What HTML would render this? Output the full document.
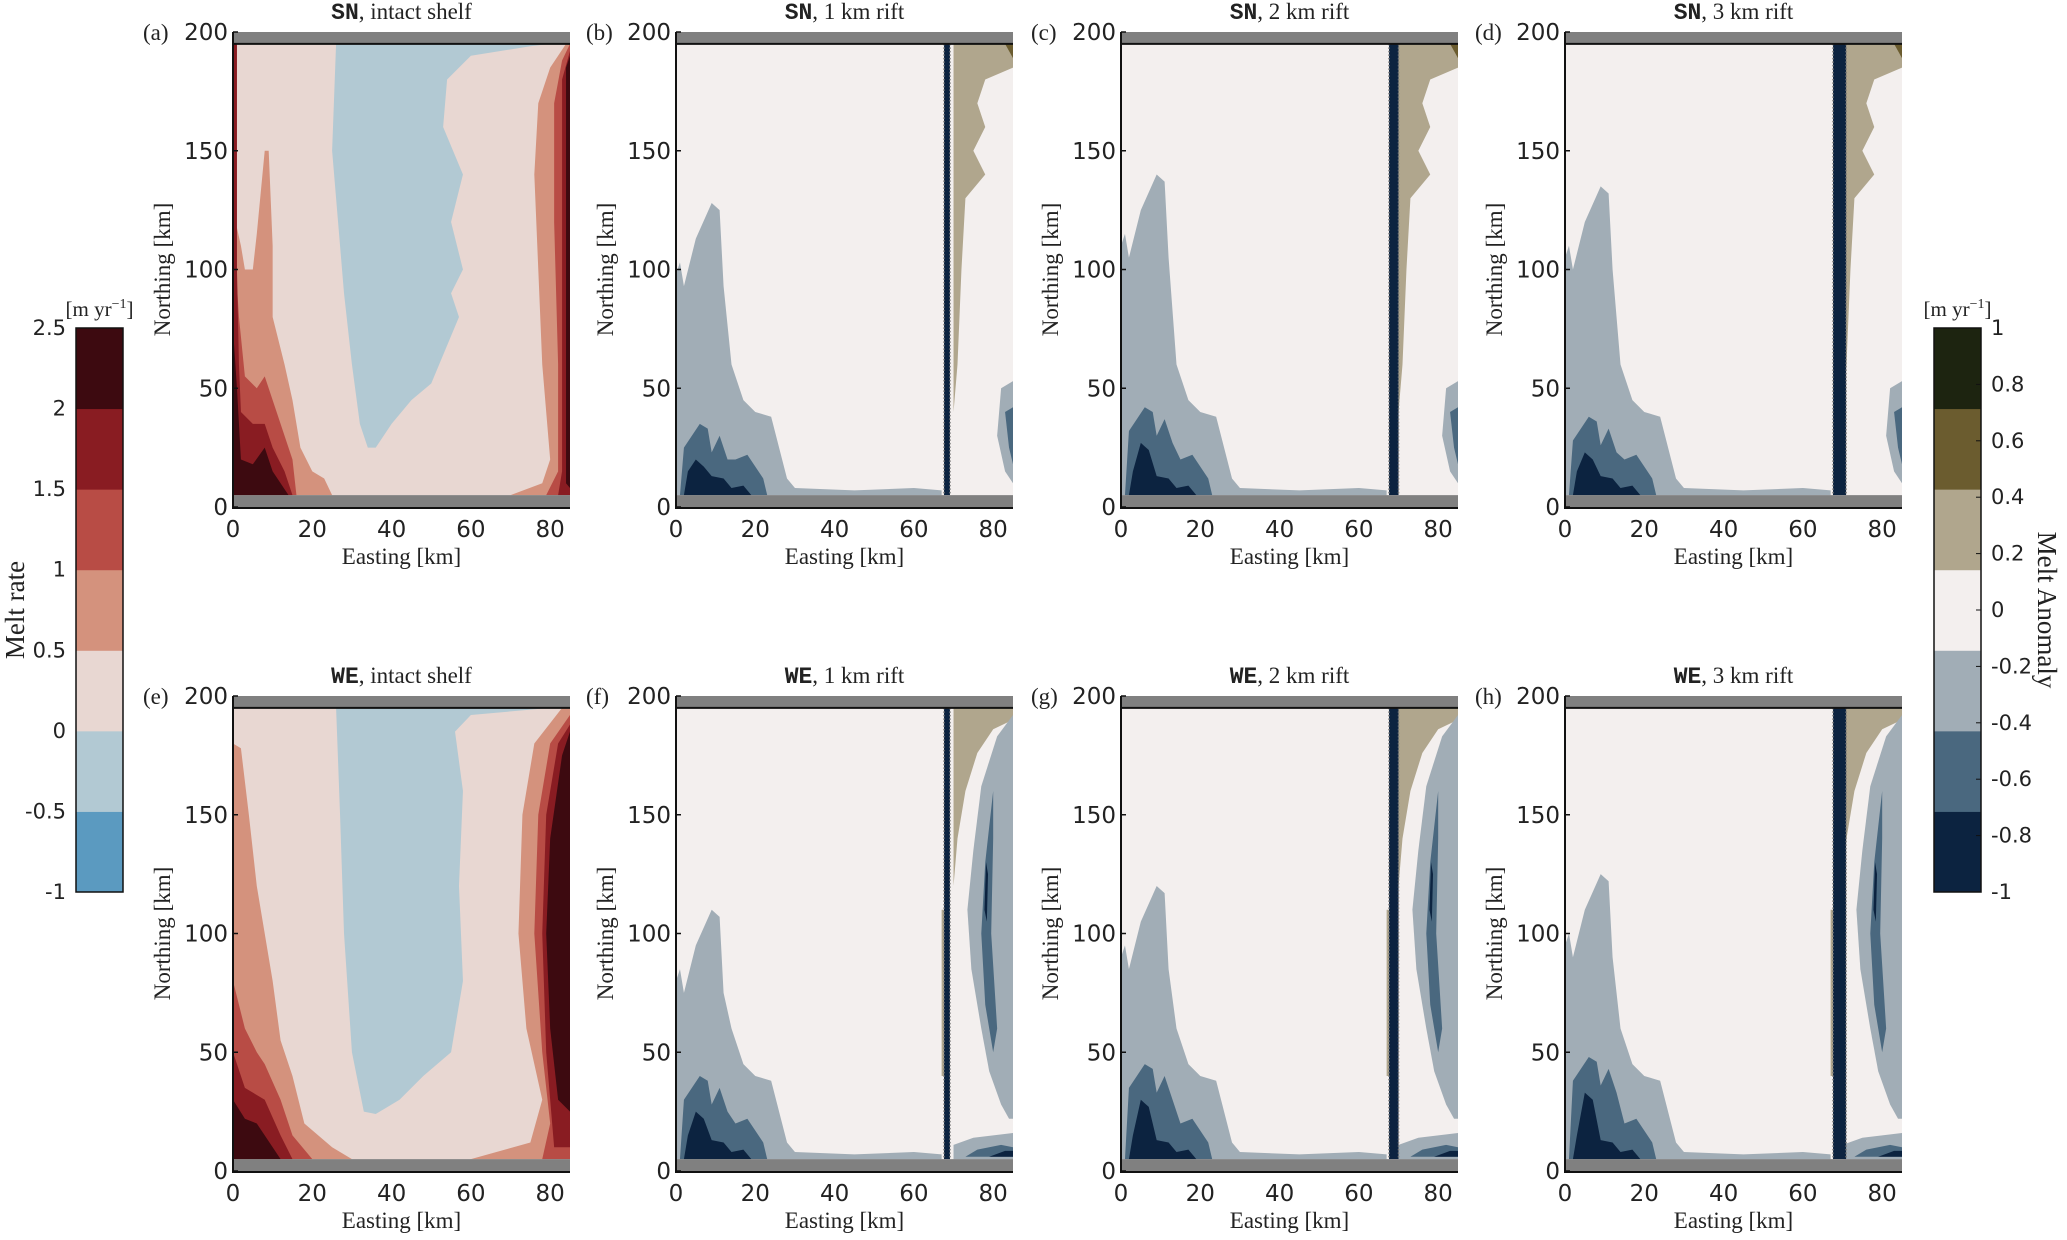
<!DOCTYPE html>
<html><head><meta charset="utf-8"><style>
body{margin:0;background:#fff;}
svg text{font-family:"DejaVu Sans","Liberation Sans",sans-serif;}
.serif{font-family:"Liberation Serif",serif !important;}
.mono{font-family:"Liberation Mono",monospace !important;font-weight:bold;}
</style></head><body>
<svg id="fig" width="2067" height="1235" viewBox="0 0 2067 1235" xmlns="http://www.w3.org/2000/svg"></svg>
<script>
// ---- data (easting km, northing km) ----
const meltColors = ["#5b9ac0","#b2c9d3","#e8d7d2","#d4927d","#b84c45","#891c22","#3d0a10"];
const meltTicks = ["-1","-0.5","0","0.5","1","1.5","2","2.5"];
const anomColors = ["#0c2340","#4a687f","#a1adb6","#f3efee","#b0a68d","#6b5c2f","#1d2410"];
const anomTicks = ["-1","-0.8","-0.6","-0.4","-0.2","0","0.2","0.4","0.6","0.8","1"];
const xTicks = [0,20,40,60,80];
const yTicks = [0,50,100,150,200];
const panelLetters = ["a","b","c","d","e","f","g","h"];
const panelTitles = [["SN",", intact shelf"],["SN",", 1 km rift"],["SN",", 2 km rift"],["SN",", 3 km rift"],["WE",", intact shelf"],["WE",", 1 km rift"],["WE",", 2 km rift"],["WE",", 3 km rift"]];
const riftWidths = [0,1,2,3,0,1,2,3];

// panel a (SN intact)
const aBlue = [[26,195],[25,150],[27,110],[28,90],[30,60],[32,35],[34,25],[36,25],[40,35],[45,45],[50,52],[52,60],[57,80],[55,90],[58,100],[55,120],[58,140],[53,160],[54,180],[60,190],[75,194],[80,195]];
const aL1 = [[0,5],[0,125],[2,110],[3,100],[5,100],[6,115],[8,150],[9,150],[10,110],[10,80],[13,60],[15,45],[17,25],[20,15],[23,12],[25,5]];
const aL2 = [[0,5],[0,120],[1.5,80],[3,55],[6,50],[8,55],[10,45],[12,35],[15,20],[16,5]];
const aL3 = [[0,5],[0,195],[1,195],[1,100],[1.5,60],[2,40],[5,35],[8,35],[10,25],[13,15],[15,5]];
const aL4 = [[0,5],[0,75],[1,50],[2,20],[5,18],[8,25],[10,15],[12,10],[14,5]];
const aR1 = [[70,5],[78,10],[80,20],[78,60],[77,100],[76,140],[77,170],[80,185],[84,195],[85,195],[85,5]];
const aR2 = [[79,5],[82,15],[82,60],[81,120],[81,170],[83,188],[85,195],[85,5]];
const aR3 = [[82,5],[83,15],[83,120],[83,180],[85,192],[85,5]];
const aR4 = [[84,10],[84,100],[84,185],[85,190],[85,8]];
// panel e (WE intact)
const eBlue = [[26,195],[27,150],[28,100],[30,50],[33,25],[36,24],[42,30],[48,40],[55,50],[58,80],[57,120],[58,160],[56,185],[60,192],[80,195]];
const eL1 = [[0,5],[0,180],[2,178],[4,150],[6,120],[8,100],[10,80],[12,55],[15,40],[18,20],[25,10],[30,5]];
const eL2 = [[0,5],[0,80],[3,60],[6,50],[8,45],[12,30],[15,15],[20,5]];
const eL3 = [[0,5],[0,50],[3,35],[8,30],[12,15],[15,5]];
const eL4 = [[0,5],[0,30],[3,22],[6,20],[10,10],[12,5]];
const eR1 = [[60,5],[75,12],[78,30],[74,60],[72,100],[73,150],[76,180],[83,195],[85,195],[85,5]];
const eR2 = [[78,5],[80,20],[78,50],[76,100],[77,150],[80,180],[85,192],[85,5]];
const eR3 = [[81,10],[79,50],[78,100],[79,150],[82,180],[85,188],[85,10]];
const eR4 = [[82,30],[80,60],[79,100],[80,140],[83,175],[85,185],[85,25]];
// anomaly tongue peaks per rift panel b,c,d,f,g,h
const tonguePeakN = [128,140,135,110,120,125];
const tongueMidN = [35,42,38,40,45,48];
// SN rift-side features
const snTan = [[70,195],[85,195],[85,185],[78,180],[76,170],[78,160],[75,150],[78,140],[73,130],[72,100],[71,60],[70,40]];
const snTanDark = [[83,195],[85,195],[85,189]];
const snGrey = [[82,50],[85,53],[85,10],[83,15],[81,30]];
const snMid = [[83,40],[85,42],[85,18],[84,25]];
// WE rift-side features
const weTan = [[70,195],[85,195],[85,190],[80,186],[76,176],[73,160],[71,140],[70,120]];
const weRiftTan = [[67,40],[67,110],[67.6,110],[67.6,40]];
const weGrey = [[85,192],[81,183],[77,162],[75,135],[73.5,110],[74.5,85],[77,60],[79,42],[82,28],[84,22],[85,22]];
const weMid = [[80,160],[78,130],[77,100],[78,70],[80,50],[81,60],[79.5,100],[80,140]];
const weDark = [[78.2,130],[77.8,110],[78.4,105],[78.7,125]];
const weBotGrey = [[70,5],[70,11],[75,14],[80,15],[85,16],[85,5]];
const weBotMid = [[73,6],[76,9],[82,11],[85,10],[85,6]];
const weBotDark = [[79,6],[83,8.5],[85,8.5],[85,6]];

// ---- layout ----
const colL = [233,676,1121,1565], PW = 337;
const rowTop = [32,696], PH = 475;
const NS = "http://www.w3.org/2000/svg";
const svg = document.getElementById('fig');
function mk(tag, attrs, parent){const e=document.createElementNS(NS,tag);for(const k in attrs)e.setAttribute(k,attrs[k]);(parent||svg).appendChild(e);return e;}
function txt(s, attrs, parent){const e=mk('text',attrs,parent);e.textContent=s;return e;}

function drawPanel(i){
  const L=colL[i%4], T=rowTop[Math.floor(i/4)];
  const xs=e=>L+e/85*PW, ys=n=>T+(200-n)/200*PH;
  const g=mk('g',{});
  
  
  const poly=(pts,col,name)=>{const p=mk('polygon',{points:pts.map(q=>xs(q[0])+','+ys(q[1])).join(' '),fill:col},g);return p;};
  const rect=(e0,n0,e1,n1,col,name)=>{const r=mk('rect',{x:xs(e0),y:ys(n1),width:xs(e1)-xs(e0),height:ys(n0)-ys(n1),fill:col},g);return r;};
  const intact = riftWidths[i]===0;
  if(intact){
    const top=i<4;
    rect(0,5,85,195,meltColors[2],'melt-background');
    poly(top?aBlue:eBlue,meltColors[1],'melt-negative-region');
    const Ls=top?[aL1,aL2,aL3,aL4]:[eL1,eL2,eL3,eL4], Rs=top?[aR1,aR2,aR3,aR4]:[eR1,eR2,eR3,eR4];
    for(let k=0;k<4;k++){poly(Ls[k],meltColors[3+k],'melt-west-band-'+k);poly(Rs[k],meltColors[3+k],'melt-east-band-'+k);}
  } else {
    const idx=(i<4)?i-1:i-2;
    const pk=tonguePeakN[idx], md=tongueMidN[idx];
    rect(0,5,85,195,anomColors[3],'anomaly-background');
    poly([[0,5],[0,pk-30],[1,pk-25],[2,pk-35],[5,pk-15],[9,pk],[11,pk-3],[12,pk-35],[14,60],[17,45],[20,40],[24,38],[26,25],[28,12],[30,8],[45,7],[60,8],[67,7],[67,5]],anomColors[2],'anomaly-tongue-light');
    poly([[1,5],[2,md-10],[4,md-5],[6,md],[8,md-2],[9,md-12],[11,md-5],[13,md-15],[15,20],[18,22],[22,12],[23,5]],anomColors[1],'anomaly-tongue-mid');
    poly([[2,5],[3,15],[5,md-15],[7,md-18],[9,13],[12,12],[14,8],[17,9],[19,5]],anomColors[0],'anomaly-tongue-dark');
    if(i<4){poly(snTan,anomColors[4],'anomaly-tan-region');poly(snTanDark,anomColors[5],'anomaly-tan-dark');poly(snGrey,anomColors[2],'anomaly-se-grey');poly(snMid,anomColors[1],'anomaly-se-mid');}
    else{poly(weTan,anomColors[4],'anomaly-tan-region');poly(weRiftTan,anomColors[4],'anomaly-rift-tan');poly(weGrey,anomColors[2],'anomaly-crescent-light');poly(weMid,anomColors[1],'anomaly-crescent-mid');poly(weDark,anomColors[0],'anomaly-crescent-dark');poly(weBotGrey,anomColors[2],'anomaly-se-grey');poly(weBotMid,anomColors[1],'anomaly-se-mid');poly(weBotDark,anomColors[0],'anomaly-se-dark');}
    const rw=riftWidths[i]*0.9+0.6;
    rect(67.6,5,67.6+rw,195,anomColors[0],'rift');
    mk('line',{x1:xs(67.6),y1:ys(195),x2:xs(67.6),y2:ys(5),stroke:'#777','stroke-dasharray':'1.5 2','stroke-width':1.5},g);
    mk('line',{x1:xs(67.6+rw),y1:ys(195),x2:xs(67.6+rw),y2:ys(5),stroke:'#777','stroke-dasharray':'1.5 2','stroke-width':1.5},g);
  }
  rect(0,195,85,200,'#808080','top-boundary-bar');
  rect(0,0,85,5,'#808080','bottom-boundary-bar');
  mk('line',{x1:L,y1:ys(195),x2:L+PW,y2:ys(195),stroke:'#111','stroke-width':2},g);
  mk('line',{x1:L,y1:ys(0)+1,x2:L+PW,y2:ys(0)+1,stroke:'#111','stroke-width':2},g);
  mk('line',{x1:L,y1:T,x2:L,y2:T+PH+2,stroke:'#111','stroke-width':2},g);
  yTicks.forEach(v=>{mk('line',{x1:L,y1:ys(v),x2:L+5,y2:ys(v),stroke:'#111','stroke-width':1.5},g);const t=txt(String(v),{x:L-5,y:ys(v)+8,'font-size':23,'text-anchor':'end',fill:'#222'},g);});
  xTicks.forEach(v=>{const t=txt(String(v),{x:xs(v),y:T+PH+30,'font-size':23,'text-anchor':'middle',fill:'#222'},g);});
  const xl=txt('Easting [km]',{x:L+PW/2,y:T+PH+57,'font-size':23,'text-anchor':'middle',class:'serif',fill:'#222'},g);
  
  const yl=txt('Northing [km]',{x:0,y:0,'font-size':23,'text-anchor':'middle',class:'serif',fill:'#222',transform:`translate(${L-63},${T+PH/2}) rotate(-90)`},g);
  
  const pl=txt('('+panelLetters[i]+')',{x:L-90,y:T+8,'font-size':23,class:'serif',fill:'#222'},g);
  
  const ti=mk('text',{x:L+PW/2,y:T-13,'font-size':23,'text-anchor':'middle',class:'serif',fill:'#222'},g);
  
  const s1=mk('tspan',{class:'mono'},ti);s1.textContent=panelTitles[i][0];
  const s2=mk('tspan',{},ti);s2.textContent=panelTitles[i][1];
}
for(let i=0;i<8;i++)drawPanel(i);

function colorbar(x,colors,ticks,right,title,name){
  const T=328,H=564,W=47;
  const g=mk('g',{});
  
  
  const n=colors.length;
  colors.forEach((c,k)=>{const r=mk('rect',{x:x,y:T+H-(k+1)*H/n,width:W,height:H/n+0.5,fill:c},g);});
  mk('rect',{x:x,y:T,width:W,height:H,fill:'none',stroke:'#111','stroke-width':1.5},g);
  ticks.forEach((t,k)=>{const y=T+H-k*H/(ticks.length-1);
    if(right){mk('line',{x1:x+W-5,y1:y,x2:x+W,y2:y,stroke:'#111'},g);}
    const e=txt(t,{x:right?x+W+10:x-10,y:y+7,'font-size':21,'text-anchor':right?'start':'end',fill:'#222'},g);});
  const u=mk('text',{x:x+W/2,y:T-12,'font-size':21,'text-anchor':'middle',class:'serif',fill:'#222'},g);
  
  u.innerHTML='[m yr<tspan dy="-8" font-size="14">−1</tspan><tspan dy="8">]</tspan>';
  const tl=right?txt(title,{x:0,y:0,'font-size':27,'text-anchor':'middle',class:'serif',fill:'#222',transform:`translate(2038,${T+H/2}) rotate(90)`},g)
               :txt(title,{x:0,y:0,'font-size':27,'text-anchor':'middle',class:'serif',fill:'#222',transform:`translate(24,${T+H/2}) rotate(-90)`},g);
  
}
colorbar(76,meltColors,meltTicks,false,'Melt rate','melt-rate-colorbar');
colorbar(1934,anomColors,anomTicks,true,'Melt Anomaly','melt-anomaly-colorbar');
</script>
</body></html>
